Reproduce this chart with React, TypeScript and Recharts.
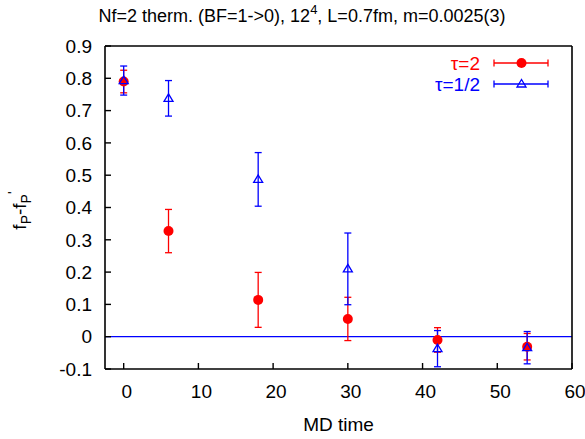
import React from 'react';
import {
  ScatterChart,
  Scatter,
  XAxis,
  YAxis,
  ErrorBar,
  ReferenceLine,
  Label,
} from 'recharts';

document.body.style.margin = '0';

const mdTime = [0, 6, 18, 30, 42, 54];
const tau2Values = [0.79, 0.327, 0.114, 0.055, -0.01, -0.031];
const tau2Errors = [0.035, 0.067, 0.085, 0.067, 0.038, 0.041];
const tauHalfValues = [0.793, 0.738, 0.487, 0.21, -0.037, -0.034];
const tauHalfErrors = [0.045, 0.055, 0.083, 0.111, 0.056, 0.05];

const xTicks = [0, 10, 20, 30, 40, 50, 60];
const yTicks = [-0.1, 0, 0.1, 0.2, 0.3, 0.4, 0.5, 0.6, 0.7, 0.8, 0.9];

const seriesNames = ['τ=2', 'τ=1/2'];
const RED = '#ff0000';
const BLUE = '#0000ff';
const FONT = '"Liberation Sans", Arial, Helvetica, sans-serif';

const tau2Data = mdTime.map((x, i) => ({ x, y: tau2Values[i], err: tau2Errors[i] }));
const tauHalfData = mdTime.map((x, i) => ({ x, y: tauHalfValues[i], err: tauHalfErrors[i] }));

const Dot = (p: any) => <circle cx={p.cx} cy={p.cy} r={5} fill={RED} />;

const Tri = (p: any) => (
  <polygon
    points={`${p.cx},${p.cy - 4.5} ${p.cx - 4.5},${p.cy + 3} ${p.cx + 4.5},${p.cy + 3}`}
    fill="none"
    stroke={BLUE}
    strokeWidth={1.3}
  />
);

const YLabel = (props: any) => {
  const vb = props.viewBox || {};
  const cy = vb.y + vb.height / 2 + 3;
  const cx = 26;
  return (
    <text
      x={cx}
      y={cy}
      transform={`rotate(-90 ${cx} ${cy})`}
      textAnchor="middle"
      fontFamily={FONT}
      fontSize={19}
      fill="#000"
    >
      f<tspan dy={5} fontSize={14}>P</tspan>
      <tspan dy={-5}>-f</tspan>
      <tspan dy={5} fontSize={14}>P</tspan>
      <tspan dy={-13} fontSize={14}>'</tspan>
    </text>
  );
};

function LegendBox() {
  const rows = [
    { name: seriesNames[0], color: RED, y: 63 },
    { name: seriesNames[1], color: BLUE, y: 84 },
  ];
  return (
    <svg
      width={585}
      height={110}
      style={{ position: 'absolute', left: 0, top: 0, pointerEvents: 'none' }}
    >
      {rows.map((r, i) => (
        <g key={r.name}>
          <text
            x={480}
            y={r.y + 7}
            textAnchor="end"
            fontFamily={FONT}
            fontSize={19}
            fill={r.color}
          >
            {r.name}
          </text>
          <line x1={494} y1={r.y} x2={548} y2={r.y} stroke={r.color} strokeWidth={1.3} />
          <line x1={494} y1={r.y - 3.5} x2={494} y2={r.y + 3.5} stroke={r.color} strokeWidth={1.3} />
          <line x1={548} y1={r.y - 3.5} x2={548} y2={r.y + 3.5} stroke={r.color} strokeWidth={1.3} />
          {i === 0 ? <Dot cx={521.5} cy={r.y} /> : <Tri cx={521.5} cy={r.y} />}
        </g>
      ))}
    </svg>
  );
}

export default function App() {
  const axisStroke = { stroke: '#000', strokeWidth: 1.6 };
  const tickStroke = { stroke: '#000', strokeWidth: 1.4 };
  return (
    <div style={{ position: 'relative', width: 585, height: 439, fontFamily: FONT, background: '#fff' }}>
      <div
        style={{
          position: 'absolute',
          left: 0,
          top: 6,
          width: 604,
          textAlign: 'center',
          fontSize: 18,
          lineHeight: '20px',
          color: '#000',
          whiteSpace: 'nowrap',
        }}
      >
        Nf=2 therm. (BF=1-&gt;0), 12
        <span style={{ position: 'relative', top: -8, fontSize: 13 }}>4</span>, L=0.7fm, m=0.0025(3)
      </div>
      <ScatterChart width={585} height={439} margin={{ top: 45, right: 12, bottom: 0, left: 0 }}>
        <XAxis
          type="number"
          dataKey="x"
          domain={[-2.5, 60]}
          ticks={xTicks}
          allowDataOverflow
          height={70}
          axisLine={axisStroke}
          tickLine={tickStroke}
          tickSize={-6}
          tickMargin={22}
          tick={{ fill: '#000', fontSize: 19, fontFamily: FONT, dx: 3 }}
        >
          <Label
            value="MD time"
            position="insideBottom"
            offset={8}
            style={{ fill: '#000', fontSize: 19, fontFamily: FONT }}
          />
        </XAxis>
        <XAxis
          xAxisId="top"
          orientation="top"
          type="number"
          dataKey="x"
          domain={[-2.5, 60]}
          ticks={xTicks}
          allowDataOverflow
          height={1}
          axisLine={axisStroke}
          tickLine={tickStroke}
          tickSize={-6}
          tick={false}
        />
        <YAxis
          type="number"
          dataKey="y"
          domain={[-0.1, 0.9]}
          ticks={yTicks}
          allowDataOverflow
          width={105}
          axisLine={axisStroke}
          tickLine={tickStroke}
          tickSize={-6}
          tickMargin={19}
          tickFormatter={(v: number) => String(v)}
          tick={{ fill: '#000', fontSize: 19, fontFamily: FONT }}
        >
          <Label content={<YLabel />} />
        </YAxis>
        <YAxis
          yAxisId="right"
          orientation="right"
          type="number"
          dataKey="y"
          domain={[-0.1, 0.9]}
          ticks={yTicks}
          allowDataOverflow
          width={1}
          axisLine={axisStroke}
          tickLine={tickStroke}
          tickSize={-6}
          tick={false}
        />
        <ReferenceLine y={0} stroke={BLUE} strokeWidth={1.3} />
        <Scatter name={seriesNames[0]} data={tau2Data} shape={<Dot />} isAnimationActive={false}>
          <ErrorBar dataKey="err" direction="y" width={3.5} stroke={RED} strokeWidth={1.3} isAnimationActive={false} />
        </Scatter>
        <Scatter name={seriesNames[1]} data={tauHalfData} shape={<Tri />} isAnimationActive={false}>
          <ErrorBar dataKey="err" direction="y" width={3.5} stroke={BLUE} strokeWidth={1.3} isAnimationActive={false} />
        </Scatter>
      </ScatterChart>
      <LegendBox />
    </div>
  );
}
